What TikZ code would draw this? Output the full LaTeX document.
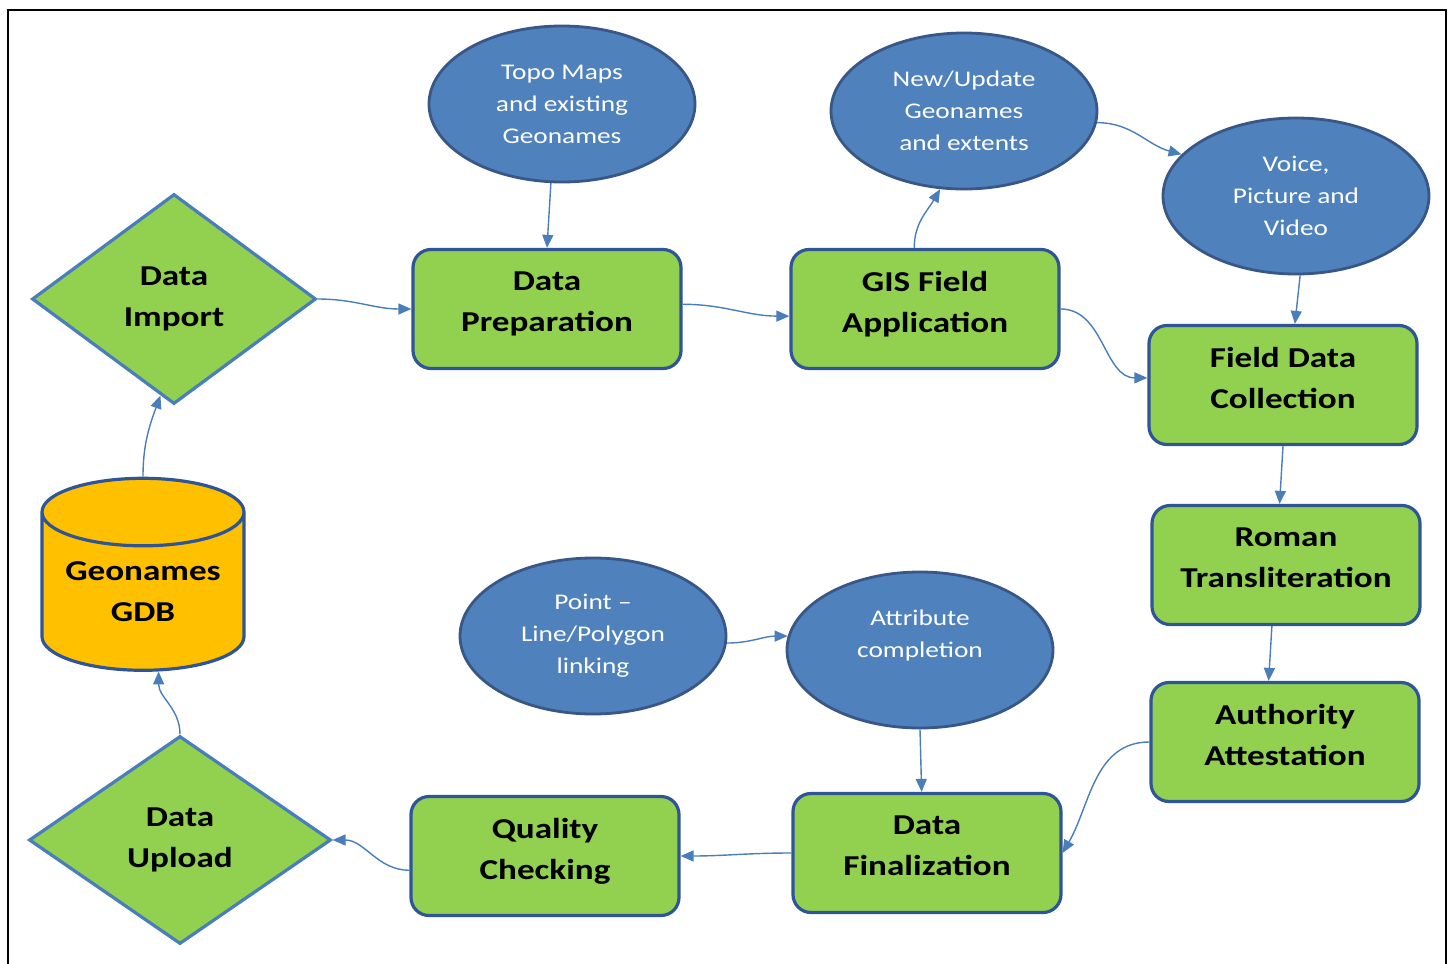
\documentclass[tikz,border=0pt]{standalone}
\usepackage{fontspec}
\setmainfont{Carlito}[FakeStretch=1.22]
\usetikzlibrary{shapes.geometric,arrows.meta}

\definecolor{boxgreen}{RGB}{146,208,80}
\definecolor{boxline}{RGB}{47,85,151}
\definecolor{ovalblue}{RGB}{79,129,189}
\definecolor{ovalline}{RGB}{56,87,135}
\definecolor{linkblue}{RGB}{74,126,187}
\definecolor{dbgold}{RGB}{255,192,0}

\begin{document}
\begin{tikzpicture}[x=0.5pt,y=-0.5pt,
	process/.style={draw=boxline, line width=1.6pt, fill=boxgreen, rounded corners=9pt,
		minimum width=134pt, minimum height=59.5pt, align=center, text depth=7pt,
		font=\fontsize{14.4}{20.5}\selectfont\bfseries},
	decision/.style={diamond, draw=linkblue, line width=1.6pt, fill=boxgreen, inner sep=0pt,
		align=center, font=\fontsize{14.4}{20.5}\selectfont\bfseries},
	source/.style={ellipse, draw=ovalline, line width=1.4pt, fill=ovalblue, text=white,
		minimum width=133pt, minimum height=78pt, inner sep=0pt, align=center,
		font=\fontsize{11.2}{16}\selectfont},
	store/.style={cylinder, shape border rotate=90, aspect=0.4, draw=boxline, line width=1.6pt,
		fill=dbgold, minimum width=101pt, minimum height=96pt, align=center, text depth=6pt,
		font=\fontsize{14.4}{20.5}\selectfont\bfseries},
	link/.style={draw=linkblue, line width=0.7pt, -{Triangle[length=6.5pt,width=5.5pt]}}]
	
	% Fix page size and draw the outer frame (bottom edge is cut off)
	\useasboundingbox (0,0) rectangle (1453,964);
	\draw[line width=1pt] (8,964) -- (8,10) -- (1446,10) -- (1446,964);
	
	% Input ovals
	\node[source] (topo) at (562,104) {Topo Maps\\and existing\\Geonames};
	\node[source] (upd) at (964,111) {New/Update\\Geonames\\and extents};
	\node[source] (voice) at (1296,196) {Voice,\\Picture and\\Video};
	\node[source] (point) at (593,636) {Point --\\Line/Polygon\\linking};
	\node[source] (attr) at (920,650) {Attribute\\completion\\\mbox{}};
	
	% Process boxes
	\node[process] (prep) at (547,309) {Data\\Preparation};
	\node[process] (gis) at (925,309) {GIS Field\\Application};
	\node[process] (field) at (1283,385) {Field Data\\Collection};
	\node[process] (roman) at (1286,565) {Roman\\Transliteration};
	\node[process] (auth) at (1285,742) {Authority\\Attestation};
	\node[process] (fin) at (927,853) {Data\\Finalization};
	\node[process] (qual) at (545,856) {Quality\\Checking};
	
	% Import / upload and the geodatabase
	\node[decision, minimum width=142pt, minimum height=105pt] (imp) at (174,299) {Data\\Import};
	\node[decision, minimum width=151pt, minimum height=104pt] (upl) at (180,840) {Data\\Upload};
	\node[store] (gdb) at (143,598) {Geonames\\GDB};
	
	% Top row
	\draw[link] (gdb.north) to[out=90,in=-110] (imp.262);
	\draw[link] (imp.east) to[out=0,in=180] (prep.west);
	\draw[link] (topo.262) -- (prep.north);
	\draw[link] (prep.2) to[out=0,in=180] (gis.183);
	\draw[link] (gis.100) to[out=90,in=-120] (upd.253);
	\draw[link] (upd.355) to[out=0,in=165] (voice.160);
	
	% Right column
	\draw[link] (voice.273) -- (field.79);
	\draw[link] (gis.east) to[out=0,in=180] (field.177);
	\draw[link] (field.south) -- (roman.96);
	\draw[link] (roman.257) -- (auth.105);
	
	% Bottom row
	\draw[link] (auth.west) to[out=180,in=60] (fin.east);
	\draw[link] (point.357) to[out=0,in=180] (attr.174);
	\draw[link] (attr.south) -- (fin.95);
	\draw[link] (fin.west) to[out=180,in=0] (qual.east);
	\draw[link] (qual.186) to[out=180,in=0] (upl.east);
	\draw[link] (upl.north) to[out=90,in=-90] (gdb.282);
\end{tikzpicture}
\end{document}
